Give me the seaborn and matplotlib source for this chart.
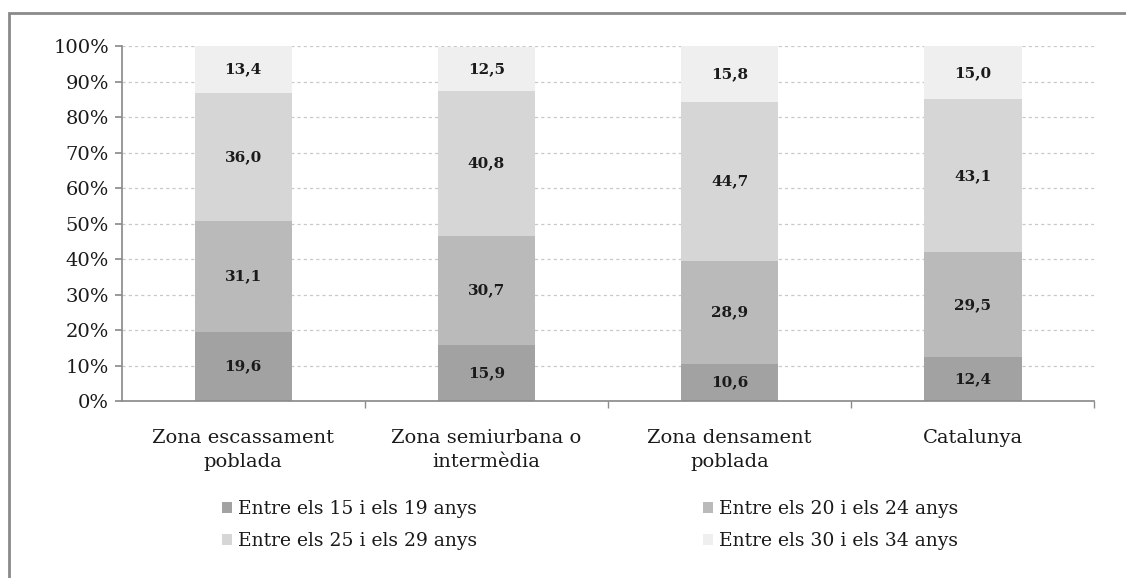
import numpy as np
import pandas as pd
import matplotlib
matplotlib.use("Agg")
import matplotlib.pyplot as plt
import seaborn as sns
from matplotlib.patches import Rectangle, Patch
from matplotlib.ticker import PercentFormatter

categories = ["Zona escassament\npoblada", "Zona semiurbana o\nintermèdia",
              "Zona densament\npoblada", "Catalunya"]
series_names = ["Entre els 15 i els 19 anys", "Entre els 20 i els 24 anys",
                "Entre els 25 i els 29 anys", "Entre els 30 i els 34 anys"]
age_15_19 = [19.6, 15.9, 10.6, 12.4]
age_20_24 = [31.1, 30.7, 28.9, 29.5]
age_25_29 = [36.0, 40.8, 44.7, 43.1]
age_30_34 = [13.4, 12.5, 15.8, 15.0]
colors = ["#a2a2a2", "#bababa", "#d6d6d6", "#efefef"]

sns.set_theme(style="white")
plt.rcParams["font.family"] = ["DejaVu Serif"]

fig = plt.figure(figsize=(11.26, 5.78), dpi=100)
ax = fig.add_axes([0.108, 0.306, 0.864, 0.614])

series = [age_15_19, age_20_24, age_25_29, age_30_34]
bottom = np.zeros(len(categories))
handles = []
for name, vals, col in zip(series_names, series, colors):
    df = pd.DataFrame({"cat": categories, "val": vals})
    sns.barplot(data=df, x="cat", y="val", bottom=bottom, color=col,
                width=0.4, errorbar=None, ax=ax, saturation=1, linewidth=0)
    for i, v in enumerate(vals):
        ax.text(i, bottom[i] + v / 2, f"{v:.1f}".replace(".", ","),
                ha="center", va="center", fontsize=11, fontweight="bold",
                color="#1a1a1a")
    bottom = bottom + np.array(vals)
    handles.append(Patch(facecolor=col, edgecolor="none", label=name))

ax.set_ylim(0, 100)
ax.set_xlim(-0.5, 3.5)
ax.set_yticks(np.arange(0, 101, 10))
ax.yaxis.set_major_formatter(PercentFormatter(decimals=0))
ax.yaxis.grid(True, linestyle=(0, (2.5, 2.5)), color="#c8c8c8", linewidth=0.9)
ax.set_axisbelow(True)
ax.set_xlabel("")
ax.set_ylabel("")
for s in ["top", "right"]:
    ax.spines[s].set_visible(False)
for s in ["left", "bottom"]:
    ax.spines[s].set_color("#8c8c8c")
ax.tick_params(axis="y", labelsize=14, length=5, color="#8c8c8c", left=True,
               labelcolor="#1a1a1a", pad=4)
ax.tick_params(axis="x", labelsize=14, length=0, pad=20, labelcolor="#1a1a1a")
for lbl in ax.get_xticklabels():
    lbl.set_multialignment("center")
    lbl.set_linespacing(1.4)
ax.set_xticks([0.5, 1.5, 2.5, 3.5], minor=True)
ax.tick_params(axis="x", which="minor", length=5, color="#8c8c8c", bottom=True)

# legend laid out row by row, as two columns
leg_kw = dict(loc="center left", frameon=False, handlelength=0.55,
              handleheight=0.55, handletextpad=0.3, labelspacing=0.75,
              borderpad=0, borderaxespad=0, labelcolor="#1a1a1a",
              prop={"size": 13.5})
fig.legend(handles=[handles[0], handles[2]],
           bbox_to_anchor=(0.197, 0.092), **leg_kw)
fig.legend(handles=[handles[1], handles[3]],
           bbox_to_anchor=(0.624, 0.092), **leg_kw)

# outer frame (only left and top edges fall inside the picture)
fig.patches.append(Rectangle((0.008, -0.1), 1.2, 1.0775,
                             transform=fig.transFigure, fill=False,
                             edgecolor="#8a8a8a", linewidth=2))

fig.savefig("out.png", dpi=100)
